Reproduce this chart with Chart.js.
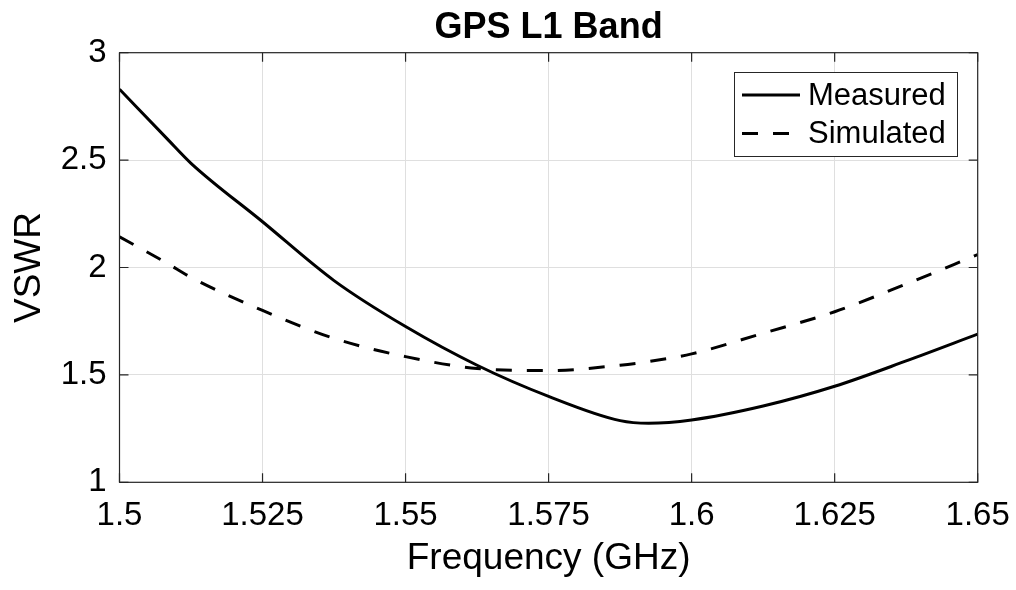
<!DOCTYPE html>
<html>
<head>
<meta charset="utf-8">
<script src="https://cdn.jsdelivr.net/npm/chart.js@4.4.1/dist/chart.umd.min.js"></script>
<style>
  html, body { margin: 0; padding: 0; background: #ffffff; }
  #wrap { width: 1016px; height: 590px; }
</style>
</head>
<body>
<div id="wrap"><canvas id="c" width="1016" height="590"></canvas></div>
<script>
// ---- data ----
const freqs     = [1.5, 1.5083, 1.5125, 1.525, 1.5375, 1.55, 1.5625, 1.575, 1.5875, 1.5925, 1.6, 1.6125, 1.625, 1.6375, 1.65];
const measured  = [2.83, 2.60, 2.485, 2.213, 1.939, 1.725, 1.545, 1.40, 1.287, 1.275, 1.29, 1.355, 1.447, 1.565, 1.69];
const simulated = [2.143, 2.02, 1.954, 1.80, 1.67, 1.585, 1.53, 1.52, 1.545, 1.562, 1.598, 1.694, 1.794, 1.923, 2.06];
const seriesNames = ['Measured', 'Simulated'];
const xTicks = [1.5, 1.525, 1.55, 1.575, 1.6, 1.625, 1.65];
const xTickLabels = ['1.5', '1.525', '1.55', '1.575', '1.6', '1.625', '1.65'];
const yTicks = [1, 1.5, 2, 2.5, 3];
const yTickLabels = ['1', '1.5', '2', '2.5', '3'];
const titleText = 'GPS L1 Band';
const xTitle = 'Frequency (GHz)';
const yTitle = 'VSWR';

const FONT = "'Liberation Sans', Arial, Helvetica, sans-serif";
const DASH = [16, 15];

const framePlugin = {
  id: 'frame',
  afterLayout(chart) {
    const t = chart.titleBlock;
    if (t) { t.left = chart.chartArea.left; t.right = chart.chartArea.right; t.width = t.right - t.left; }
  },
  afterDatasetsDraw(chart) {
    const {ctx, chartArea: a, scales} = chart;
    ctx.save();
    ctx.strokeStyle = '#262626';
    ctx.lineWidth = 1.2;
    ctx.beginPath();
    const tl = 9;
    scales.x.ticks.forEach(tk => {
      const px = scales.x.getPixelForValue(tk.value);
      ctx.moveTo(px, a.bottom); ctx.lineTo(px, a.bottom - tl);
      ctx.moveTo(px, a.top); ctx.lineTo(px, a.top + tl);
    });
    scales.y.ticks.forEach(tk => {
      const py = scales.y.getPixelForValue(tk.value);
      ctx.moveTo(a.left, py); ctx.lineTo(a.left + tl, py);
      ctx.moveTo(a.right, py); ctx.lineTo(a.right - tl, py);
    });
    ctx.stroke();
    ctx.strokeRect(a.left, a.top, a.right - a.left, a.bottom - a.top);

    // legend
    const lx = 734.5, ly = 72.5, lw = 223, lh = 84;
    ctx.fillStyle = '#ffffff';
    ctx.fillRect(lx, ly, lw, lh);
    ctx.strokeStyle = '#262626';
    ctx.lineWidth = 1;
    ctx.strokeRect(lx, ly, lw, lh);
    const rows = [95, 133.5];
    chart.data.datasets.forEach((ds, i) => {
      const y = rows[i];
      ctx.beginPath();
      ctx.strokeStyle = '#000000';
      ctx.lineWidth = 3;
      ctx.setLineDash(ds.borderDash || []);
      ctx.moveTo(742, y); ctx.lineTo(800, y);
      ctx.stroke();
      ctx.setLineDash([]);
      ctx.fillStyle = '#000000';
      ctx.font = '31px ' + FONT;
      ctx.textAlign = 'left';
      ctx.textBaseline = 'middle';
      ctx.fillText(ds.label, 808, y + 1);
    });
    ctx.restore();
  }
};

new Chart(document.getElementById('c'), {
  type: 'line',
  data: {
    labels: freqs,
    datasets: [
      { label: seriesNames[0], data: freqs.map((f, i) => ({x: f, y: measured[i]})),
        borderColor: '#000000', borderWidth: 3, pointRadius: 0, cubicInterpolationMode: 'monotone', fill: false },
      { label: seriesNames[1], data: freqs.map((f, i) => ({x: f, y: simulated[i]})),
        borderColor: '#000000', borderWidth: 3, borderDash: DASH, pointRadius: 0, cubicInterpolationMode: 'monotone', fill: false }
    ]
  },
  options: {
    responsive: false,
    animation: false,
    events: [],
    layout: { padding: { left: 0, right: 38.3, top: 0, bottom: 0 } },
    plugins: {
      legend: { display: false },
      tooltip: { enabled: false },
      title: {
        display: true, text: titleText, color: '#000000',
        font: { family: FONT, size: 36, weight: 'bold', lineHeight: 1.2 },
        padding: { top: 6.6, bottom: 2.9 }
      }
    },
    scales: {
      x: {
        type: 'linear', min: 1.5, max: 1.65,
        afterBuildTicks: s => { s.ticks = xTicks.map(v => ({value: v})); },
        afterFit: s => { s.height = 107.7; s.paddingLeft = 0; s.paddingRight = 0; },
        ticks: { callback: (v, i) => xTickLabels[i], color: '#000000', padding: 13.5, maxRotation: 0, autoSkip: false,
                 font: { family: FONT, size: 33, lineHeight: 1.2 } },
        grid: { color: '#dfdfdf', lineWidth: 1, drawTicks: false },
        border: { display: false },
        title: { display: true, text: xTitle, color: '#000000', padding: { top: 0, bottom: 8.8 },
                 font: { family: FONT, size: 37, lineHeight: 1.2 } }
      },
      y: {
        type: 'linear', min: 1, max: 3,
        afterBuildTicks: s => { s.ticks = yTicks.map(v => ({value: v})); },
        afterFit: s => { s.width = 119.5; s.paddingTop = 0; s.paddingBottom = 0; },
        ticks: { callback: (v, i) => yTickLabels[i], color: '#000000', padding: 13, autoSkip: false,
                 font: { family: FONT, size: 33, lineHeight: 1.2 } },
        grid: { color: '#dfdfdf', lineWidth: 1, drawTicks: false },
        border: { display: false },
        title: { display: true, text: yTitle, color: '#000000', padding: { top: 8, bottom: 0 },
                 font: { family: FONT, size: 37, lineHeight: 1.2 } }
      }
    }
  },
  plugins: [framePlugin]
});
</script>
</body>
</html>
